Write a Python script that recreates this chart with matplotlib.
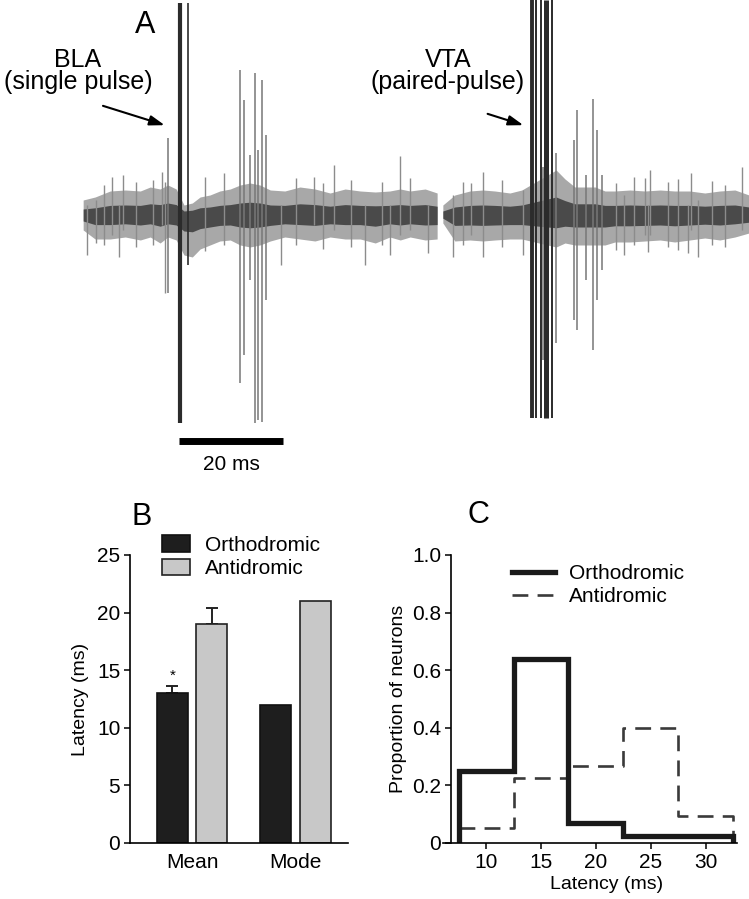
import matplotlib
matplotlib.use("Agg")
import matplotlib.pyplot as plt
from matplotlib.patches import Patch
from matplotlib.lines import Line2D

plt.rcParams['font.family'] = ['Liberation Sans', 'DejaVu Sans']

# ---- panel A: extracellular trace (time in ms, amplitude in arbitrary units)
# dense noise band of each sweep (upper / lower envelope)
sweep1_t = [0.0, 2.3, 5.2, 8.1, 11.0, 12.9, 14.8, 16.3, 17.9, 19.4, 21.0, 22.5, 24.4, 26.3,
            28.3, 30.2, 32.1, 34.0, 36.0, 38.8, 41.7, 44.6, 47.5, 50.4, 53.3, 56.2, 59.0,
            61.0, 62.9, 65.8, 68.1]
sweep1_up = [15, 18, 24, 25, 24, 28, 26, 30, 26, 10, 12, 18, 20, 24,
             26, 30, 32, 30, 25, 24, 28, 26, 22, 26, 24, 23, 24, 26, 24, 26, 22]
sweep1_low = [-15, -24, -24, -22, -25, -22, -28, -22, -25, -40, -42, -34, -30, -26,
              -25, -30, -32, -30, -26, -22, -24, -26, -22, -24, -24, -28, -22, -25, -22, -25, -24]
sweep2_t = [69.2, 71.5, 74.4, 76.9, 79.2, 82.1, 84.4, 91.0, 92.7, 94.6, 96.5, 98.5, 100.4,
            102.3, 105.2, 108.1, 111.0, 113.8, 116.7, 119.6, 122.5, 125.4, 128.1]
sweep2_up = [10, 20, 24, 25, 24, 22, 25, 45, 36, 28, 28, 28, 24,
             24, 25, 24, 25, 24, 24, 22, 24, 25, 20]
sweep2_low = [-8, -26, -25, -26, -25, -24, -24, -32, -28, -30, -30, -30, -30,
              -27, -27, -26, -25, -27, -25, -23, -25, -22, -18]

# isolated noise peaks
noise_t = [0.8, 2.5, 4.0, 5.6, 6.9, 7.7, 10.2, 13.5, 15.2, 15.8, 23.5, 27.0, 38.1, 41.0,
           44.4, 46.2, 48.3, 51.5, 54.2, 57.5, 59.0, 61.0, 62.9, 66.3, 71.2, 73.0, 74.6,
           76.9, 80.5, 84.6, 102.5, 104.0, 106.0, 108.1, 108.7, 109.0, 112.5, 114.5,
           116.3, 116.9, 118.3, 121.0, 123.5, 126.7]
noise_top = [10, 15, 30, 38, 10, 40, 33, 35, 43, 33, 38, 42, 10, 37,
             38, 32, 50, 35, 10, 33, 10, 59, 37, 10, 20, 33, 32,
             43, 35, 25, 32, 20, 38, 37, 10, 45, 33, 36,
             10, 42, 15, 34, 30, 48]
noise_bot = [-40, -28, -30, -20, -42, -15, -32, -30, -10, -78, -36, -30, -50, -30,
             -10, -34, -15, -32, -50, -30, -40, -20, -15, -38, -42, -30, -20,
             -42, -32, -40, -35, -40, -30, -20, -37, -20, -32, -35,
             -38, -15, -42, -30, -32, -15]

# evoked unit spikes
spike_t = [16.3, 30.2, 31.0, 32.1, 33.1, 33.7, 34.4, 35.2,
           88.5, 91.0, 94.4, 95.0, 96.7, 98.1, 98.8, 99.8]
spike_top = [77, 145, 115, 60, 142, 65, 135, 80,
             48, 62, 75, 105, 40, 116, 85, 40]
spike_bot = [-78, -168, -140, -65, -208, -205, -207, -85,
             -145, -128, -105, -115, -65, -135, -85, -55]

# stimulation artifacts
artifact_t = [18.7, 20.2, 86.3, 87.1, 88.1, 89.1, 90.2]
artifact_top = [212, 212, 215, 215, 215, 215, 215]
artifact_bot = [-208, -50, -203, -203, -203, -203, -203]
artifact_w = [3.0, 1.2, 2.8, 1.4, 1.4, 3.6, 1.4]

# ---- panel B: latency bars
groups = ['Mean', 'Mode']
ortho_lat = [13.0, 12.0]
anti_lat = [19.0, 21.0]
ortho_err = [0.6]   # SEM, Mean only
anti_err = [1.4]

# ---- panel C: latency histogram
bin_edges = [7.5, 12.5, 17.5, 22.5, 27.5, 32.5]
ortho_prop = [0.25, 0.64, 0.07, 0.025, 0.025]
anti_prop = [0.052, 0.225, 0.267, 0.40, 0.094]

W, H = 749, 899
fig = plt.figure(figsize=(W / 100, H / 100), dpi=100)


def box(l, t, r, b):
    # pixel box -> figure fraction rect
    return [l / W, 1 - b / H, (r - l) / W, (b - t) / H]


# ===== A =====
axA = fig.add_axes(box(0, 0, 749, 470))
axA.set_xlim(-16.0, 128.1)
axA.set_ylim(-255, 215)
axA.axis('off')

for t, up, low in [(sweep1_t, sweep1_up, sweep1_low), (sweep2_t, sweep2_up, sweep2_low)]:
    axA.fill_between(t, low, up, color='#a8a8a8', lw=0)
    axA.fill_between(t, [v * 0.4 for v in low], [v * 0.4 for v in up], color='#4a4a4a', lw=0)
axA.vlines(noise_t, noise_bot, noise_top, color='#8c8c8c', lw=1.0)
axA.vlines(spike_t, spike_bot, spike_top, color='#777777', lw=1.1)
for t, top, bot, w in zip(artifact_t, artifact_top, artifact_bot, artifact_w):
    axA.vlines(t, bot, top, color='#2b2b2b', lw=w)

# scale bar
axA.plot([18.5, 38.5], [-226, -226], color='black', lw=5, solid_capstyle='butt')
axA.text(28.5, -250, '20 ms', ha='center', va='center', fontsize=15)

axA.text(11.9, 190, 'A', ha='center', va='center', fontsize=22)
axA.text(-1.0, 155, 'BLA', ha='center', va='center', fontsize=18)
axA.text(-1.0, 133, '(single pulse)', ha='center', va='center', fontsize=18)
axA.text(70.2, 155, 'VTA', ha='center', va='center', fontsize=18)
axA.text(70.2, 133, '(paired-pulse)', ha='center', va='center', fontsize=18)
arrow = dict(arrowstyle='-|>,head_length=0.9,head_width=0.3', color='black', lw=1.5)
axA.annotate('', xy=(16.2, 89), xytext=(3.3, 110), arrowprops=arrow)
axA.annotate('', xy=(85.2, 89), xytext=(77.3, 102), arrowprops=arrow)

# ===== B =====
axB = fig.add_axes(box(130, 555, 348, 843))
x = [0, 1]
bw = 0.30
off = 0.19
ekw = dict(ecolor='#222222', elinewidth=1.4, capsize=4.5, capthick=1.4)
axB.bar([i - off for i in x], ortho_lat, bw, color='#1e1e1e', edgecolor='#111111', lw=1.2)
axB.bar([i + off for i in x], anti_lat, bw, color='#c8c8c8', edgecolor='#222222', lw=1.2)
axB.errorbar([x[0] - off], ortho_lat[:1], yerr=[[0], ortho_err], fmt='none', zorder=0, **ekw)
axB.errorbar([x[0] + off], anti_lat[:1], yerr=[[0], anti_err], fmt='none', zorder=0, **ekw)
axB.text(-off, ortho_lat[0] + ortho_err[0] + 0.35, '*', ha='center', va='bottom', fontsize=11)
axB.set_xlim(-0.599, 1.507)
axB.set_ylim(0, 25)
axB.set_yticks([0, 5, 10, 15, 20, 25])
axB.set_xticks(x)
axB.set_xticklabels(groups)
axB.set_ylabel('Latency (ms)', fontsize=14, labelpad=6)
axB.tick_params(axis='y', labelsize=15, length=4, width=1.1, direction='out', pad=3)
axB.tick_params(axis='x', labelsize=15, length=0, pad=7)
for s in ['top', 'right']:
    axB.spines[s].set_visible(False)
for s in ['left', 'bottom']:
    axB.spines[s].set_linewidth(1.2)
axB.legend(handles=[Patch(facecolor='#1e1e1e', edgecolor='#111111', lw=1.2, label='Orthodromic'),
                    Patch(facecolor='#c8c8c8', edgecolor='#222222', lw=1.2, label='Antidromic')],
           loc='upper left', bbox_to_anchor=(162 / W, 1 - 535 / H), bbox_transform=fig.transFigure,
           frameon=False, fontsize=15, handlelength=1.35, handleheight=0.85,
           handletextpad=0.7, labelspacing=0.2, borderpad=0, borderaxespad=0)
fig.text(142 / W, 1 - 517 / H, 'B', ha='center', va='center', fontsize=22)

# ===== C =====
axC = fig.add_axes(box(443, 555, 737, 843))
ox, oy = [bin_edges[0]], [0]
for i, v in enumerate(ortho_prop):
    ox += [bin_edges[i], bin_edges[i + 1]]
    oy += [v, v]
ox.append(bin_edges[-1])
oy.append(0)
ax_, ay_ = [], []
for i, v in enumerate(anti_prop):
    ax_ += [bin_edges[i], bin_edges[i + 1]]
    ay_ += [v, v]
ax_.append(bin_edges[-1])
ay_.append(0)
axC.plot(ax_, ay_, color='#3a3a3a', lw=1.9, dashes=(6, 3.5))
axC.plot(ox, oy, color='#1a1a1a', lw=3.8, solid_joinstyle='miter')
axC.set_xlim(6.09, 32.82)
axC.set_ylim(0, 1.0)
axC.spines['left'].set_position(('data', 6.82))
axC.set_xticks([10, 15, 20, 25, 30])
axC.set_yticks([0, 0.2, 0.4, 0.6, 0.8, 1.0])
axC.set_yticklabels(['0', '0.2', '0.4', '0.6', '0.8', '1.0'])
axC.tick_params(labelsize=15, length=4, width=1.1, direction='out', pad=3)
axC.set_xlabel('Latency (ms)', fontsize=14)
axC.xaxis.set_label_coords((607 - 443) / 294, -(876 - 843) / 288)
axC.set_ylabel('Proportion of neurons', fontsize=14, labelpad=4)
for s in ['top', 'right']:
    axC.spines[s].set_visible(False)
for s in ['left', 'bottom']:
    axC.spines[s].set_linewidth(1.2)
axC.legend(handles=[Line2D([], [], color='#1a1a1a', lw=3.8, label='Orthodromic'),
                    Line2D([], [], color='#3a3a3a', lw=1.9, dashes=(6, 3.5), label='Antidromic')],
           loc='upper left', bbox_to_anchor=(512 / W, 1 - 564 / H), bbox_transform=fig.transFigure,
           frameon=False, fontsize=15, handlelength=2.05, handletextpad=0.7,
           labelspacing=0.2, borderpad=0, borderaxespad=0)
fig.text(478 / W, 1 - 515 / H, 'C', ha='center', va='center', fontsize=22)

fig.savefig('out.png', dpi=100)
